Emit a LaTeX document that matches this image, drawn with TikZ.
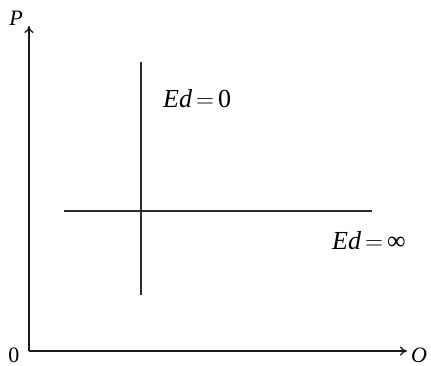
\documentclass[tikz,border=0pt]{standalone}
\usepackage{fontspec}
\setmainfont{Liberation Serif}
\usetikzlibrary{arrows.meta,positioning}
\definecolor{axis}{HTML}{1A1A1A}
\definecolor{curve}{HTML}{2B2B2B}
\newcommand{\eqsign}{\kern4pt{\fontsize{23}{26}\selectfont$=$}\kern4pt}

\begin{document}
\begin{tikzpicture}[x=1pt,y=-1pt,
  lbl/.style={font=\fontsize{26}{30}\selectfont,inner sep=0pt},
  axlbl/.style={font=\fontsize{22}{26}\selectfont,inner sep=0pt},
  axisline/.style={axis,line width=1.3pt,-{To[length=7pt,width=9pt]}}]
  \useasboundingbox (0,0) rectangle (431,366);
  % axes
  \coordinate (orig) at (29,351);
  \coordinate (ptop) at (29,26);
  \coordinate (qend) at (407,351);
  \draw[axisline] (orig) -- (ptop);
  \draw[axisline] (orig) -- (qend);
  \node[axlbl,anchor=base] (plab) at (16,26) {\textit{P}};
  \node[axlbl,anchor=base] (qlab) at (419,362) {\textit{O}};
  \node[axlbl,anchor=base] (zero) at (14,362) {0};
  % demand lines
  \draw[curve,line width=2.6pt] (141,62) -- (141,295);
  \draw[curve,line width=2.6pt] (64,211) -- (372,211);
  \node[lbl,anchor=base west] (ed0) at (163,108) {\textit{Ed}\eqsign0};
  \node[lbl,anchor=base west] (edinf) at (332,249) {\textit{Ed}\eqsign∞};
\end{tikzpicture}
\end{document}
